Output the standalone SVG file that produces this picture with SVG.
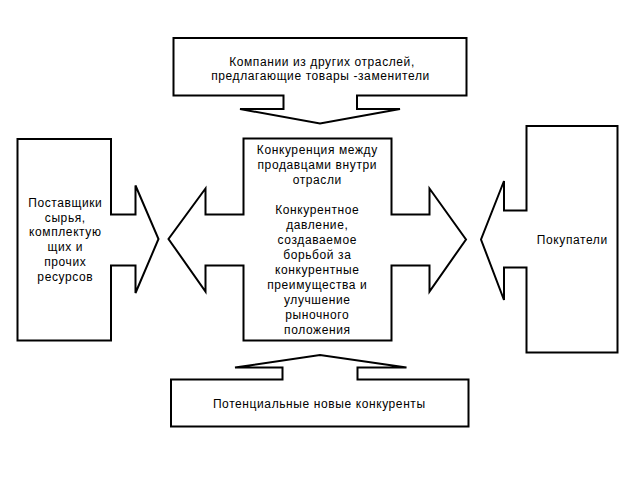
<svg xmlns="http://www.w3.org/2000/svg" width="640" height="480" viewBox="0 0 640 480">
<style>
.s{fill:#fff;stroke:#000;stroke-width:2;stroke-linejoin:miter}
text{font-family:"Liberation Sans",Arial,sans-serif;font-size:12px;letter-spacing:0.6px;fill:#000;text-anchor:middle}
</style>
<rect width="640" height="480" fill="#fff"/>
<g id="substitutes">
<path class="s" d="M173.5,38 H466.5 V95.5 H357 V109 H400 L320,123.5 L240,109 H283.5 V95.5 H173.5 Z"/>
<text x="322" y="66">Компании из других отраслей,</text>
<text x="320.5" y="80">предлагающие товары -заменители</text>
</g>
<g id="suppliers">
<path class="s" d="M17.5,139 H111 V214.5 H135.5 V185.5 L158.5,239 L135.5,293 V265.5 H111 V340.5 H17.5 Z"/>
<text x="65.3" y="207">Поставщики</text>
<text x="65.3" y="222">сырья,</text>
<text x="65.3" y="236">комплектую</text>
<text x="65.3" y="251">щих и</text>
<text x="65.3" y="266">прочих</text>
<text x="65.3" y="281">ресурсов</text>
</g>
<g id="rivalry">
<path class="s" d="M243.5,138.5 H391.5 V214.5 H429.5 V188.5 L466,239.5 L429.5,291.5 V265.5 H391.5 V340.5 H243.5 V265.5 H205.5 V291.5 L168.5,239 L205.5,188.5 V214.5 H243.5 Z"/>
<text x="317.3" y="154">Конкуренция между</text>
<text x="317.3" y="169">продавцами внутри</text>
<text x="317.3" y="184">отрасли</text>
<text x="317.3" y="214">Конкурентное</text>
<text x="317.3" y="229">давление,</text>
<text x="317.3" y="244">создаваемое</text>
<text x="317.3" y="259">борьбой за</text>
<text x="317.3" y="274">конкурентные</text>
<text x="317.3" y="289">преимущества и</text>
<text x="317.3" y="304">улучшение</text>
<text x="317.3" y="319">рыночного</text>
<text x="317.3" y="334">положения</text>
</g>
<g id="buyers">
<path class="s" d="M526.5,126 H617.5 V352.5 H526.5 V267.5 H504 V300 L481,239.5 L504,181 V210.5 H526.5 Z"/>
<text x="572.3" y="244">Покупатели</text>
</g>
<g id="entrants">
<path class="s" d="M171,379.5 H282.5 V367.5 H235 L320,355 L406.5,367.5 H357.5 V379.5 H468.5 V426.5 H171 Z"/>
<text x="319.3" y="407.5">Потенциальные новые конкуренты</text>
</g>
<g id="connectors"></g>
</svg>
